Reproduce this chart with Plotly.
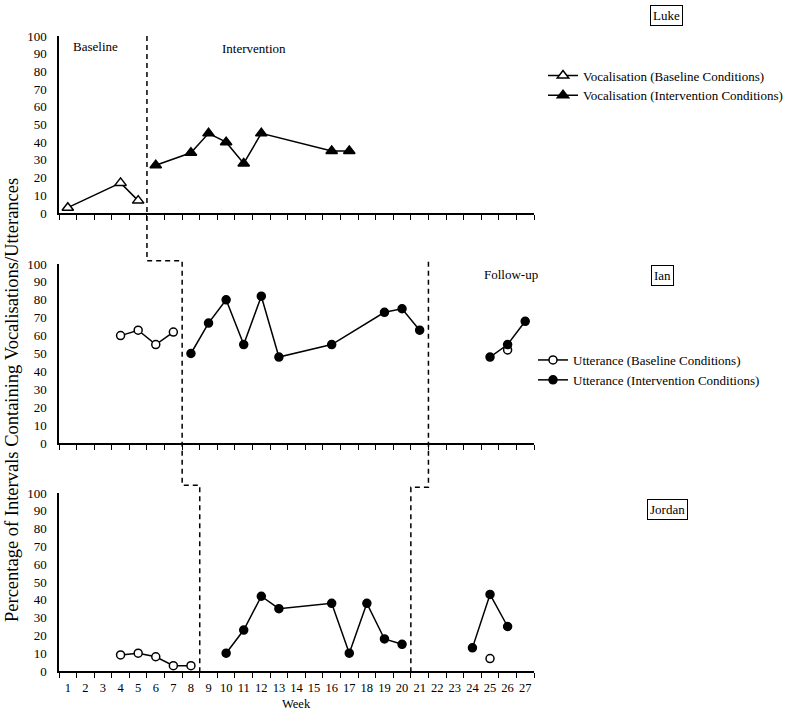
import plotly.graph_objects as go

# ---------------- data ----------------
weeks = list(range(1, 28))
week_labels = [str(w) for w in weeks]
y_ticks = list(range(0, 101, 10))

luke_base_weeks = [1, 4, 5]
luke_base_vals = [3, 17, 7]
luke_int_weeks = [6, 8, 9, 10, 11, 12, 16, 17]
luke_int_vals = [27, 34, 45, 40, 28, 45, 35, 35]

ian_base_weeks = [4, 5, 6, 7, 25, 26]
ian_base_vals = [60, 63, 55, 62, None, 52]
ian_int_weeks = [8, 9, 10, 11, 12, 13, 16, 19, 20, 21, 22, 25, 26, 27]
ian_int_vals = [50, 67, 80, 55, 82, 48, 55, 73, 75, 63, None, 48, 55, 68]

jordan_base_weeks = [4, 5, 6, 7, 8, 9, 25]
jordan_base_vals = [9, 10, 8, 3, 3, None, 7]
jordan_int_weeks = [10, 11, 12, 13, 16, 17, 18, 19, 20, 21, 24, 25, 26]
jordan_int_vals = [10, 23, 42, 35, 38, 10, 38, 18, 15, None, 13, 43, 25]

# phase change positions (between weeks)
luke_change = 5.5
ian_change = 7.5
jordan_change = 8.5
ian_follow = 21.5
jordan_follow = 20.5

FONT = "Liberation Serif"
H = 712.0
W = 790.0

def py(px):
    return 1 - px / H

def px_(x):
    return x / W

top_dom = [py(213), py(36)]
mid_dom = [py(443), py(264)]
bot_dom = [py(671), py(493)]
x_dom = [px_(59), px_(534)]

fig = go.Figure()

line_style = dict(color="black", width=1.5)

def add(xs, ys, name, symbol, fill, xa, ya, legend, show, size):
    fig.add_trace(go.Scatter(
        x=xs, y=ys, mode="lines+markers", name=name,
        line=line_style, connectgaps=False,
        marker=dict(symbol=symbol, size=size, color=fill,
                    line=dict(color="black", width=1.5)),
        xaxis=xa, yaxis=ya, legend=legend, showlegend=show,
        cliponaxis=False,
    ))

add(luke_base_weeks, luke_base_vals, "Vocalisation (Baseline Conditions)",
    "triangle-up", "white", "x", "y", "legend", True, 10)
add(luke_int_weeks, luke_int_vals, "Vocalisation (Intervention Conditions)",
    "triangle-up", "black", "x", "y", "legend", True, 10)
add(ian_base_weeks, ian_base_vals, "Utterance (Baseline Conditions)",
    "circle", "white", "x2", "y2", "legend2", True, 8)
add(ian_int_weeks, ian_int_vals, "Utterance (Intervention Conditions)",
    "circle", "black", "x2", "y2", "legend2", True, 8)
add(jordan_base_weeks, jordan_base_vals, "Utterance (Baseline Conditions)",
    "circle", "white", "x3", "y3", "legend2", False, 8)
add(jordan_int_weeks, jordan_int_vals, "Utterance (Intervention Conditions)",
    "circle", "black", "x3", "y3", "legend2", False, 8)

def xaxis(anchor, labels):
    return dict(
        domain=x_dom, anchor=anchor, range=[0.5, 27.5],
        tickmode="array", tickvals=weeks, ticktext=week_labels,
        showticklabels=labels, ticks="", ticklabelstandoff=4,
        showline=True, linecolor="black", linewidth=1.5,
        showgrid=False, zeroline=False, automargin=False,
        minor=dict(ticks="outside", tick0=0.5, dtick=1, ticklen=5,
                   tickcolor="black", tickwidth=1, showgrid=False),
        tickfont=dict(family=FONT, size=12.5, color="black"),
    )

def yaxis(anchor, dom):
    return dict(
        domain=dom, anchor=anchor, range=[0, 100],
        tickmode="array", tickvals=y_ticks, ticks="",
        ticklabelstandoff=8, automargin=False,
        showline=True, linecolor="black", linewidth=1.5,
        showgrid=False, zeroline=False,
        tickfont=dict(family=FONT, size=13, color="black"),
    )

# dashed phase-change lines (paper y derived from panel domains)
jog1 = mid_dom[1] + 0.0045
jog2 = bot_dom[1] + 0.011
path1 = (f"M {luke_change},{top_dom[1]} L {luke_change},{jog1} "
         f"L {ian_change},{jog1} L {ian_change},{jog2} "
         f"L {jordan_change},{jog2} L {jordan_change},{bot_dom[0]}")
path2 = (f"M {ian_follow},{mid_dom[1] + 0.003} L {ian_follow},{jog2 - 0.003} "
         f"L {jordan_follow},{jog2 - 0.003} L {jordan_follow},{bot_dom[0]}")
shapes = [
    dict(type="path", path=p, xref="x", yref="paper",
         line=dict(color="black", width=1.5, dash="5px,4px"), layer="above")
    for p in (path1, path2)
]

tf = dict(family=FONT, size=13, color="black")
centered = dict(xanchor="center", yanchor="middle", showarrow=False)
box = dict(xref="paper", yref="paper", font=tf, bordercolor="black",
           borderwidth=1, borderpad=2, bgcolor="white", **centered)
annotations = [
    dict(text="Baseline", x=2.6, y=94, xref="x", yref="y", font=tf, **centered),
    dict(text="Intervention", x=11.6, y=93, xref="x", yref="y", font=tf, **centered),
    dict(text="Follow-up", x=26.2, y=94, xref="x2", yref="y2", font=tf, **centered),
    dict(text="Luke", x=px_(666), y=py(15), **box),
    dict(text="Ian", x=px_(662), y=py(276), **box),
    dict(text="Jordan", x=px_(667), y=py(509), **box),
    dict(text="Percentage of Intervals Containing Vocalisations/Utterances",
         x=px_(12), y=py(400), xref="paper", yref="paper",
         textangle=-90, font=dict(family=FONT, size=18.5, color="black"), **centered),
    dict(text="Week", x=14, y=py(704), xref="x3", yref="paper",
         font=dict(family=FONT, size=12.5, color="black"), **centered),
]

fig.update_layout(
    width=790, height=712,
    margin=dict(l=0, r=0, t=0, b=0, autoexpand=False),
    paper_bgcolor="white", plot_bgcolor="white",
    font=dict(family=FONT, size=13, color="black"),
    xaxis=xaxis("y", False), yaxis=yaxis("x", top_dom),
    xaxis2=xaxis("y2", False), yaxis2=yaxis("x2", mid_dom),
    xaxis3=xaxis("y3", True), yaxis3=yaxis("x3", bot_dom),
    shapes=shapes, annotations=annotations,
    legend=dict(x=px_(543), y=py(60.5), xanchor="left", yanchor="top",
                font=tf, itemwidth=30, bgcolor="rgba(0,0,0,0)",
                tracegroupgap=0),
    legend2=dict(x=px_(533), y=py(345), xanchor="left", yanchor="top",
                 font=tf, itemwidth=30, bgcolor="rgba(0,0,0,0)",
                 tracegroupgap=0),
)

fig.write_html(
    "out.html",
    config={"displayModeBar": False},
    post_script="document.body.style.margin='0';document.body.style.overflow='hidden';",
)
